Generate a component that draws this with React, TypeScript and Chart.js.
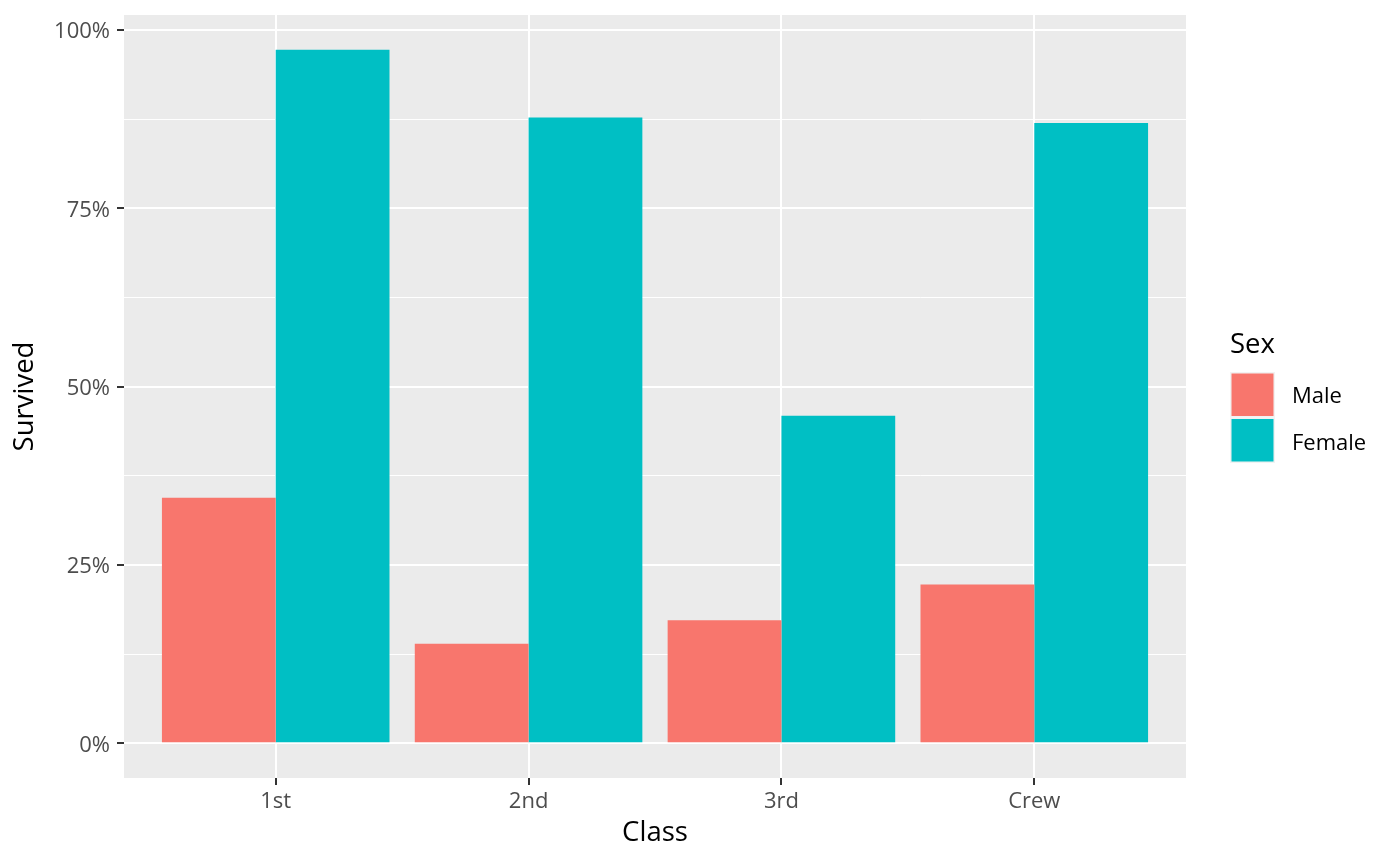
import React, { useEffect, useRef } from "react";
import { Chart, registerables } from "chart.js";

Chart.register(...registerables);

const categories = ["1st", "2nd", "3rd", "Crew"];
const maleSurvived = [0.3444, 0.1397, 0.1725, 0.2227];
const femaleSurvived = [0.9724, 0.8774, 0.4592, 0.8696];
const seriesNames = ["Male", "Female"];
const seriesColors = ["#F8766D", "#00BFC4"];
const yTickValues = [0, 0.125, 0.25, 0.375, 0.5, 0.625, 0.75, 0.875, 1.0];
const xTickValues = [1, 2, 3, 4];

const FONT = "'Open Sans', 'Noto Sans', sans-serif";

export default function App() {
  const ref = useRef<HTMLCanvasElement | null>(null);

  useEffect(() => {
    if (!ref.current) return;
    const maxVal = Math.max(...maleSurvived, ...femaleSurvived);
    const yMin = -0.05 * maxVal;
    const yMax = maxVal * 1.05;

    const panelBg = {
      id: "panelBg",
      beforeDraw(chart: any) {
        const { ctx, chartArea } = chart;
        ctx.save();
        ctx.fillStyle = "#EBEBEB";
        ctx.fillRect(chartArea.left, chartArea.top, chartArea.right - chartArea.left, chartArea.bottom - chartArea.top);
        ctx.restore();
      },
    };

    const legendPlugin = {
      id: "ggLegend",
      afterDraw(chart: any) {
        const { ctx } = chart;
        ctx.save();
        ctx.fillStyle = "#000000";
        ctx.textBaseline = "alphabetic";
        ctx.textAlign = "left";
        ctx.font = `27.5px ${FONT}`;
        ctx.fillText("Sex", 1230, 353);
        const keyX = 1230;
        const keyW = 45;
        const keyH = 45.5;
        const tops = [372, 417.5];
        const baselines = [403.3, 450];
        ctx.font = `22px ${FONT}`;
        seriesNames.forEach((name, i) => {
          ctx.fillStyle = "#F2F2F2";
          ctx.fillRect(keyX, tops[i], keyW, keyH);
          ctx.fillStyle = seriesColors[i];
          ctx.fillRect(keyX + 1.5, tops[i] + 1.5, keyW - 3, keyH - 3);
          ctx.fillStyle = "#000000";
          ctx.fillText(name, 1292, baselines[i]);
        });
        ctx.restore();
      },
    };

    const isMajor = (v: number) => {
      const q = v * 4;
      return Math.abs(q - Math.round(q)) < 1e-6;
    };

    const chart = new Chart(ref.current, {
      type: "bar",
      data: {
        datasets: [
          {
            label: seriesNames[0],
            data: maleSurvived.map((v, i) => ({ x: i + 1, y: v })),
            backgroundColor: seriesColors[0],
            borderWidth: 0,
          },
          {
            label: seriesNames[1],
            data: femaleSurvived.map((v, i) => ({ x: i + 1, y: v })),
            backgroundColor: seriesColors[1],
            borderWidth: 0,
          },
        ],
      },
      options: {
        responsive: false,
        animation: false,
        devicePixelRatio: 1,
        layout: { padding: { left: 0, right: 214, top: 15, bottom: 0 } },
        datasets: { bar: { categoryPercentage: 0.9, barPercentage: 1.0 } },
        plugins: {
          legend: { display: false },
          tooltip: { enabled: false },
        },
        scales: {
          x: {
            type: "linear",
            min: 0.4,
            max: 4.6,
            offset: false,
            afterBuildTicks: (scale: any) => {
              scale.ticks = xTickValues.map((v) => ({ value: v }));
            },
            afterFit: (scale: any) => {
              scale.height = 88;
              scale.paddingLeft = 0;
              scale.paddingRight = 0;
            },
            ticks: {
              autoSkip: false,
              maxRotation: 0,
              padding: 4,
              color: "#4D4D4D",
              font: { family: FONT, size: 22 },
              callback: (v: any) => categories[Math.round(Number(v)) - 1] ?? "",
            },
            grid: {
              offset: false,
              color: "#FFFFFF",
              lineWidth: 2,
              tickColor: "#333333",
              tickWidth: 2,
              tickLength: 7,
              drawTicks: true,
            },
            border: { display: false },
            title: {
              display: true,
              text: "Class",
              color: "#000000",
              font: { family: FONT, size: 27.5 },
              padding: { top: 0, bottom: 16 },
            },
          },
          y: {
            type: "linear",
            min: yMin,
            max: yMax,
            afterBuildTicks: (scale: any) => {
              scale.ticks = yTickValues.map((v) => ({ value: v }));
            },
            afterFit: (scale: any) => {
              scale.width = 124;
              scale.paddingTop = 0;
              scale.paddingBottom = 0;
            },
            ticks: {
              autoSkip: false,
              padding: 7,
              labelOffset: 2,
              color: "#4D4D4D",
              font: { family: FONT, size: 22 },
              callback: (v: any) => {
                const n = Number(v);
                return isMajor(n) ? `${Math.round(n * 100)}%` : "";
              },
            },
            grid: {
              color: "#FFFFFF",
              lineWidth: (c: any) => (isMajor(c.tick?.value ?? 0) ? 2 : 1),
              tickColor: (c: any) => (isMajor(c.tick?.value ?? 0) ? "#333333" : "rgba(0,0,0,0)"),
              tickWidth: 2,
              tickLength: 7,
              drawTicks: true,
            },
            border: { display: false },
            title: {
              display: true,
              text: "Survived",
              color: "#000000",
              font: { family: FONT, size: 27.5 },
              padding: { top: 9, bottom: 0 },
            },
          },
        },
      },
      plugins: [panelBg, legendPlugin],
    } as any);

    return () => chart.destroy();
  }, []);

  return (
    <div style={{ position: "fixed", left: 0, top: 0, width: 1400, height: 866, background: "#FFFFFF" }}>
      <canvas ref={ref} width={1400} height={866} style={{ width: 1400, height: 866, display: "block" }} />
    </div>
  );
}
